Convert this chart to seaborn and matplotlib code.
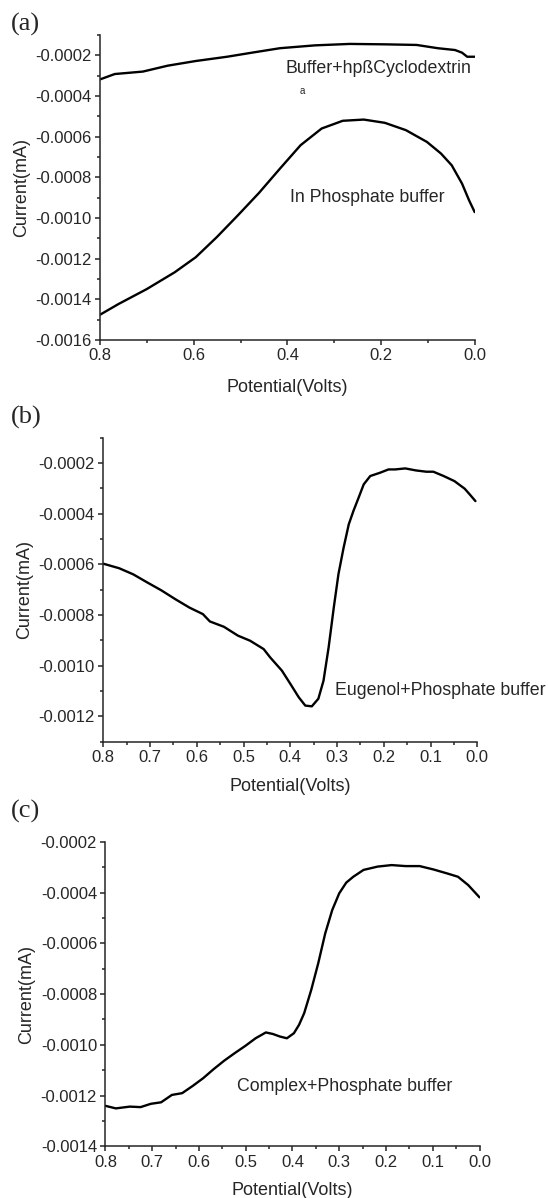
import numpy as np
import pandas as pd
import matplotlib
matplotlib.use('Agg')
import matplotlib.pyplot as plt
from matplotlib.ticker import MultipleLocator, FuncFormatter
import seaborn as sns

# Панель (a): буфер + hpβCD (верх) и фосфатный буфер (низ)
pot_a_top = [0.8, 0.769, 0.709, 0.656, 0.596, 0.529, 0.476, 0.416, 0.341, 0.267,
             0.192, 0.124, 0.079, 0.042, 0.027, 0.016, 0.0]
cur_a_top = [-0.000318, -0.000292, -0.00028, -0.000251, -0.000228, -0.000207, -0.000187,
             -0.000165, -0.000151, -0.000144, -0.000146, -0.000149, -0.000165, -0.000174,
             -0.000187, -0.000207, -0.000207]

pot_a_low = [0.8, 0.761, 0.701, 0.641, 0.596, 0.551, 0.506, 0.461, 0.416, 0.372, 0.327,
             0.282, 0.237, 0.192, 0.147, 0.102, 0.072, 0.049, 0.027, 0.012, 0.0]
cur_a_low = [-0.001475, -0.001423, -0.00135, -0.001267, -0.001193, -0.001094, -0.000987,
             -0.000877, -0.000757, -0.000642, -0.00056, -0.000522, -0.000516, -0.000532,
             -0.000568, -0.000626, -0.000683, -0.000741, -0.000831, -0.000913, -0.000971]

# Панель (b): эвгенол + фосфатный буфер
pot_b = [0.8, 0.766, 0.736, 0.706, 0.676, 0.646, 0.616, 0.587, 0.572, 0.542, 0.512, 0.486,
         0.457, 0.443, 0.418, 0.400, 0.382, 0.368, 0.354, 0.340, 0.329, 0.318, 0.307, 0.297,
         0.286, 0.275, 0.265, 0.254, 0.243, 0.229, 0.208, 0.190, 0.176, 0.154, 0.131, 0.109,
         0.094, 0.072, 0.049, 0.027, 0.016, 0.004]
cur_b = [-0.000598, -0.000616, -0.00064, -0.000672, -0.000703, -0.000738, -0.000771,
         -0.000797, -0.000826, -0.000847, -0.000882, -0.000902, -0.000935, -0.000968,
         -0.00102, -0.001072, -0.001125, -0.001158, -0.001161, -0.001131, -0.00106,
         -0.000928, -0.000771, -0.000639, -0.000535, -0.000443, -0.00039, -0.000338,
         -0.000285, -0.000252, -0.000239, -0.000226, -0.000226, -0.000222, -0.00023,
         -0.000235, -0.000235, -0.000252, -0.000272, -0.000302, -0.000325, -0.000351]

# Панель (c): комплекс + фосфатный буфер
pot_c = [0.8, 0.778, 0.748, 0.725, 0.703, 0.681, 0.658, 0.636, 0.613, 0.591, 0.569, 0.546,
         0.524, 0.501, 0.479, 0.457, 0.442, 0.427, 0.412, 0.397, 0.386, 0.375, 0.360, 0.345,
         0.330, 0.315, 0.300, 0.285, 0.270, 0.248, 0.218, 0.188, 0.158, 0.128, 0.099, 0.069,
         0.046, 0.024, 0.0]
cur_c = [-0.00124, -0.00125, -0.001243, -0.001245, -0.001232, -0.001226, -0.001197,
         -0.00119, -0.001161, -0.001131, -0.001096, -0.001062, -0.001033, -0.001004,
         -0.000974, -0.000951, -0.000957, -0.000967, -0.000974, -0.000954, -0.000921,
         -0.000875, -0.000784, -0.000679, -0.000561, -0.000469, -0.000403, -0.000361,
         -0.000338, -0.000311, -0.000298, -0.000292, -0.000296, -0.000296, -0.000309,
         -0.000325, -0.000338, -0.000371, -0.000419]

sns.set_style('ticks')
plt.rcParams['font.family'] = ['Liberation Sans', 'DejaVu Sans']

fig = plt.figure(figsize=(5.48, 11.98), dpi=100)
ax_a = fig.add_axes([0.1830, 0.7162, 0.6832, 0.2546])
ax_b = fig.add_axes([0.1885, 0.3810, 0.6825, 0.2538])
ax_c = fig.add_axes([0.1925, 0.0430, 0.6825, 0.2544])

lw = 1.7
sns.lineplot(x=pot_a_top, y=cur_a_top, ax=ax_a, color='black', lw=lw)
sns.lineplot(x=pot_a_low, y=cur_a_low, ax=ax_a, color='black', lw=lw)
sns.lineplot(x=pot_b, y=cur_b, ax=ax_b, color='black', lw=lw)
sns.lineplot(x=pot_c, y=cur_c, ax=ax_c, color='black', lw=lw)

settings = [
    (ax_a, (-0.0016, -0.0001), 0.2, 0.1, '(a)', 0.9741, 11),
    (ax_b, (-0.0013, -0.0001), 0.1, 0.05, '(b)', 0.6461, 9),
    (ax_c, (-0.0014, -0.0002), 0.1, 0.05, '(c)', 0.3176, 9),
]
for ax, ylim, xmaj, xmin, lab, ylab, lpad in settings:
    ax.set_xlim(0.8, 0.0)
    ax.set_ylim(*ylim)
    ax.xaxis.set_major_locator(MultipleLocator(xmaj))
    ax.xaxis.set_minor_locator(MultipleLocator(xmin))
    ax.yaxis.set_major_locator(MultipleLocator(0.0002))
    ax.yaxis.set_minor_locator(MultipleLocator(0.0001))
    ax.yaxis.set_major_formatter(FuncFormatter(lambda v, p: f'{v:.4f}'))
    ax.xaxis.set_major_formatter(FuncFormatter(lambda v, p: f'{v:.1f}'))
    sns.despine(ax=ax)
    for s in ['left', 'bottom']:
        ax.spines[s].set_linewidth(1.1)
    ax.tick_params(which='major', length=3.6, width=1.1, labelsize=12, pad=2.5)
    ax.tick_params(which='minor', length=2.2, width=1.1)
    ax.set_xlabel('Potential(Volts)', fontsize=13, labelpad=lpad)
    ax.set_ylabel('Current(mA)', fontsize=13, labelpad=4)
    fig.text(0.019, ylab, lab, fontsize=19, family=['Liberation Serif', 'DejaVu Serif'],
             ha='left', va='baseline')

ax_a.text(0.405, -0.000266, 'Buffer+hpßCyclodextrin', fontsize=12.8, ha='left', va='center')
ax_a.text(0.368, -0.000374, 'a', fontsize=7, ha='center', va='center')
ax_a.text(0.3955, -0.000901, 'In Phosphate buffer', fontsize=12.8, ha='left', va='center')
ax_b.text(0.304, -0.001099, 'Eugenol+Phosphate buffer', fontsize=12.8, ha='left', va='center')
ax_c.text(0.519, -0.001163, 'Complex+Phosphate buffer', fontsize=12.8, ha='left', va='center')

fig.savefig('out.png', dpi=100)
